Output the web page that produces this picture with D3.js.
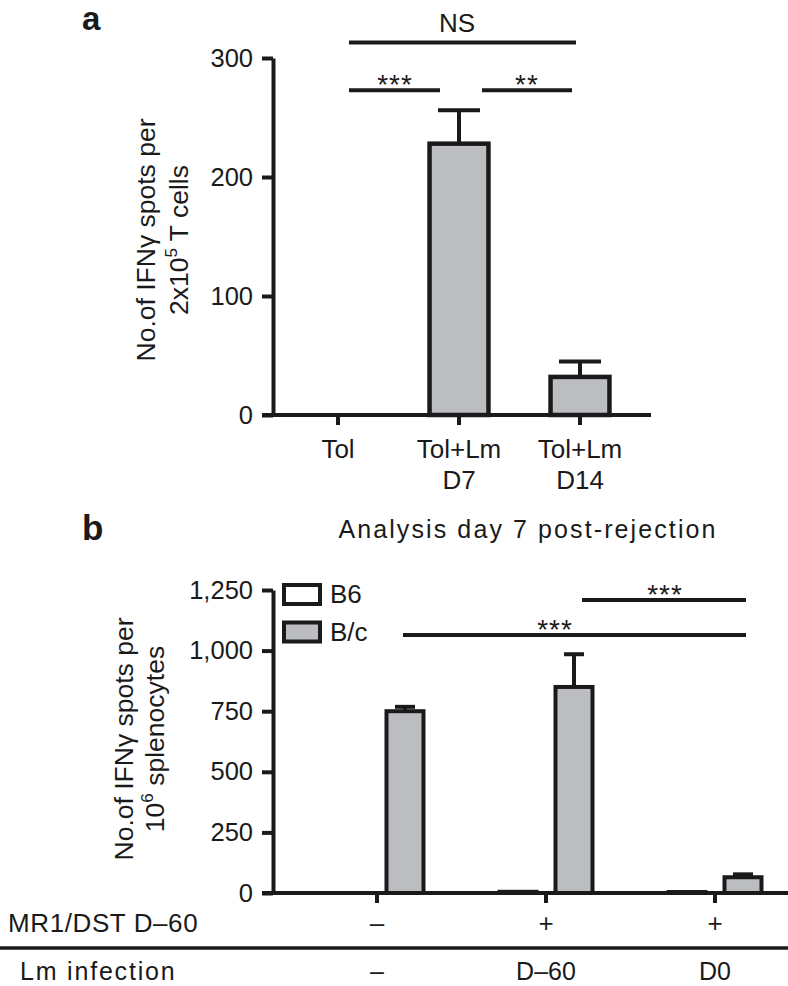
<!DOCTYPE html>
<html>
<head>
<meta charset="utf-8">
<script src="https://cdn.jsdelivr.net/npm/d3@7"></script>
<style>
  html, body { margin: 0; padding: 0; background: #fff; }
  svg { display: block; }
  text { font-family: "Liberation Sans", Arial, Helvetica, sans-serif; fill: #1a1a1a; }
</style>
</head>
<body>
<svg id="chart" width="788" height="986"></svg>
<script>
// ---------- Panel a data ----------
const catsA = ["Tol", "Tol+Lm D7", "Tol+Lm D14"];
const catLabelsA = [["Tol"], ["Tol+Lm", "D7"], ["Tol+Lm", "D14"]];
const valuesA = [0, 228, 32];
const errorsA = [0, 28, 13];
const ticksA = [0, 100, 200, 300];
const sigA = [
  { from: 0, to: 2, label: "NS", level: 313 },
  { from: 0, to: 1, label: "***", level: 273 },
  { from: 1, to: 2, label: "**", level: 273 }
];

// ---------- Panel b data ----------
const groupsB = ["ctrl", "D-60", "D0"];
const seriesB = ["B6", "B/c"];
const b6Values = [0, 5, 4];
const bcValues = [750, 850, 65];
const bcErrors = [18, 135, 12];
const ticksB = [0, 250, 500, 750, 1000, 1250];
const mr1Row = ["–", "+", "+"];
const lmRow = ["–", "D–60", "D0"];
const sigB = [
  { from: 1, to: 2, label: "***", level: 1209 },
  { from: 0, to: 2, label: "***", level: 1064 }
];

const INK = "#1a1a1a";
const GREY = "#bcbdc0";
const svg = d3.select("#chart");

// ================= Panel a =================
const yA = d3.scaleLinear().domain([0, 300]).range([415, 58]);
const xA = d3.scaleBand().domain(catsA).range([277.5, 640.5]).paddingInner(0.48).paddingOuter(0.24);
const cA = i => xA(catsA[i]) + xA.bandwidth() / 2;

svg.append("text").attr("x", 82).attr("y", 30).attr("font-size", 33).attr("font-weight", "bold").text("a");

// y axis
const gyA = svg.append("g").attr("transform", "translate(273,0)")
  .call(d3.axisLeft(yA).tickValues(ticksA).tickSize(11).tickSizeOuter(0).tickPadding(9));
gyA.selectAll("path,line").attr("stroke", INK).attr("stroke-width", 4);
gyA.selectAll("text").attr("font-size", 25.5).attr("fill", INK).attr("font-family", "Liberation Sans, Arial, sans-serif");

// bars
svg.append("g").selectAll("rect").data(valuesA).join("rect")
  .attr("x", (d, i) => xA(catsA[i]) + 2)
  .attr("width", xA.bandwidth() - 4)
  .attr("y", d => yA(d))
  .attr("height", d => yA(0) - yA(d))
  .attr("fill", GREY).attr("stroke", INK).attr("stroke-width", 4.5)
  .style("display", d => d > 0 ? null : "none");

// error bars
const errA = svg.append("g").attr("stroke", INK).attr("stroke-width", 4);
valuesA.forEach((v, i) => {
  if (errorsA[i] <= 0) return;
  errA.append("line").attr("x1", cA(i)).attr("x2", cA(i)).attr("y1", yA(v)).attr("y2", yA(v + errorsA[i]));
  errA.append("line").attr("x1", cA(i) - 21).attr("x2", cA(i) + 21).attr("y1", yA(v + errorsA[i])).attr("y2", yA(v + errorsA[i]));
});

// x axis
const gxA = svg.append("g").attr("transform", "translate(0,415)")
  .call(d3.axisBottom(xA).tickSize(10).tickSizeOuter(0).tickFormat(""));
gxA.select(".domain").remove();
gxA.selectAll("line").attr("stroke", INK).attr("stroke-width", 4);
svg.append("line").attr("x1", 262).attr("x2", 651).attr("y1", yA(0)).attr("y2", yA(0))
  .attr("stroke", INK).attr("stroke-width", 4);
catLabelsA.forEach((lines, i) => {
  const t = svg.append("text").attr("text-anchor", "middle").attr("font-size", 26);
  lines.forEach((s, j) => t.append("tspan").attr("x", cA(i)).attr("y", 458 + j * 31).text(s));
});

// y title
svg.append("text").attr("transform", "translate(0,240) rotate(-90)")
  .attr("text-anchor", "middle").attr("font-size", 26.5).attr("x", 0).attr("y", 155).text("No.of IFNγ spots per");
const l2a = svg.append("text").attr("transform", "translate(0,240) rotate(-90)")
  .attr("text-anchor", "middle").attr("font-size", 26.5).attr("y", 188).attr("x", 0);
l2a.append("tspan").text("2x10");
l2a.append("tspan").attr("font-size", 17).attr("dy", -11).text("5");
l2a.append("tspan").attr("dy", 11).text("  T cells");

// significance a
const sigOffA = [[11, -4], [11, -19], [23, -8]];
const labelXA = [457, 395, 527];
sigA.forEach((s, k) => {
  const x1 = cA(s.from) + sigOffA[k][0], x2 = cA(s.to) + sigOffA[k][1];
  svg.append("line").attr("x1", x1).attr("x2", x2).attr("y1", yA(s.level)).attr("y2", yA(s.level))
    .attr("stroke", INK).attr("stroke-width", 4);
  const star = s.label.startsWith("*");
  svg.append("text").attr("x", labelXA[k])
    .attr("y", star ? yA(s.level) + 4 : yA(s.level) - 11)
    .attr("text-anchor", "middle").attr("font-size", star ? 28 : 26)
    .attr("letter-spacing", star ? 1 : 0)
    .text(s.label);
});

// ================= Panel b =================
const yB = d3.scaleLinear().domain([0, 1250]).range([893, 590]);
const x0B = d3.scaleBand().domain(groupsB).range([292.5, 799.5]);
const x1B = d3.scaleBand().domain(seriesB).range([36.5, 132.5]).paddingInner(0.2857).paddingOuter(0);
const gC = i => x0B(groupsB[i]) + x0B.bandwidth() / 2;
const sX = (i, s) => x0B(groupsB[i]) + x1B(s);

svg.append("text").attr("x", 82).attr("y", 540).attr("font-size", 35).attr("font-weight", "bold").text("b");
svg.append("text").attr("x", 528).attr("y", 538).attr("text-anchor", "middle").attr("font-size", 25)
  .attr("letter-spacing", 2.1).text("Analysis day 7 post-rejection");

const gyB = svg.append("g").attr("transform", "translate(273,0)")
  .call(d3.axisLeft(yB).tickValues(ticksB).tickSize(11).tickSizeOuter(0).tickPadding(9).tickFormat(d3.format(",")));
gyB.selectAll("path,line").attr("stroke", INK).attr("stroke-width", 4);
gyB.selectAll("text").attr("font-size", 25.5).attr("fill", INK).attr("font-family", "Liberation Sans, Arial, sans-serif");

// bars
const barsB = [];
groupsB.forEach((g, i) => {
  barsB.push({ i, s: "B6", v: b6Values[i], e: 0 });
  barsB.push({ i, s: "B/c", v: bcValues[i], e: bcErrors[i] });
});
svg.append("g").selectAll("rect").data(barsB).join("rect")
  .attr("x", d => sX(d.i, d.s) + 1.5)
  .attr("width", x1B.bandwidth() - 3)
  .attr("y", d => yB(d.v))
  .attr("height", d => yB(0) - yB(d.v))
  .attr("fill", d => d.s === "B6" ? "#ffffff" : GREY)
  .attr("stroke", INK).attr("stroke-width", 4)
  .style("display", d => d.v > 0 ? null : "none");

const errB = svg.append("g").attr("stroke", INK).attr("stroke-width", 4);
barsB.filter(d => d.e > 0).forEach(d => {
  const cx = sX(d.i, d.s) + x1B.bandwidth() / 2;
  errB.append("line").attr("x1", cx).attr("x2", cx).attr("y1", yB(d.v)).attr("y2", yB(d.v + d.e));
  errB.append("line").attr("x1", cx - 10).attr("x2", cx + 10).attr("y1", yB(d.v + d.e)).attr("y2", yB(d.v + d.e));
});

// x axis b
const gxB = svg.append("g").attr("transform", "translate(0,893)")
  .call(d3.axisBottom(x0B).tickSize(10).tickSizeOuter(0).tickFormat(""));
gxB.select(".domain").remove();
gxB.selectAll("line").attr("stroke", INK).attr("stroke-width", 4);
svg.append("line").attr("x1", 262).attr("x2", 788).attr("y1", yB(0)).attr("y2", yB(0))
  .attr("stroke", INK).attr("stroke-width", 4);

// legend
const legB = svg.append("g");
seriesB.forEach((s, k) => {
  const y = 583 + k * 37.5;
  legB.append("rect").attr("x", 284).attr("y", y + 2).attr("width", 36).attr("height", 19)
    .attr("fill", s === "B6" ? "#fff" : GREY).attr("stroke", INK).attr("stroke-width", 4);
  legB.append("text").attr("x", 330).attr("y", y + 20).attr("font-size", 26).text(s);
});

// y title b
svg.append("text").attr("transform", "translate(0,739) rotate(-90)")
  .attr("text-anchor", "middle").attr("font-size", 26.5).attr("x", 0).attr("y", 133).text("No.of IFNγ spots per");
const l2b = svg.append("text").attr("transform", "translate(0,739) rotate(-90)")
  .attr("text-anchor", "middle").attr("font-size", 26.5).attr("x", 0).attr("y", 164);
l2b.append("tspan").text("10");
l2b.append("tspan").attr("font-size", 17).attr("dy", -11).text("6");
l2b.append("tspan").attr("dy", 11).text(" splenocytes");

// significance b
const bcC = i => sX(i, "B/c") + x1B.bandwidth() / 2;
const sigOffB = [[8, 3], [-2, 3]];
const starXB = [665, 555];
sigB.forEach((s, k) => {
  const x1 = bcC(s.from) + sigOffB[k][0], x2 = bcC(s.to) + sigOffB[k][1];
  svg.append("line").attr("x1", x1).attr("x2", x2).attr("y1", yB(s.level)).attr("y2", yB(s.level))
    .attr("stroke", INK).attr("stroke-width", 4);
  svg.append("text").attr("x", starXB[k]).attr("y", yB(s.level) + 4)
    .attr("text-anchor", "middle").attr("font-size", 28).attr("letter-spacing", 1).text(s.label);
});

// condition rows
svg.append("text").attr("x", 8).attr("y", 932).attr("font-size", 26).attr("letter-spacing", 0.6).text("MR1/DST D–60");
mr1Row.forEach((s, i) => svg.append("text").attr("x", gC(i)).attr("y", 932)
  .attr("text-anchor", "middle").attr("font-size", 26).text(s));
svg.append("line").attr("x1", 0).attr("x2", 788).attr("y1", 948).attr("y2", 948)
  .attr("stroke", INK).attr("stroke-width", 3.5);
svg.append("text").attr("x", 20).attr("y", 980).attr("font-size", 25).attr("letter-spacing", 1.8).text("Lm infection");
lmRow.forEach((s, i) => svg.append("text").attr("x", gC(i)).attr("y", 980)
  .attr("text-anchor", "middle").attr("font-size", 25).text(s));
</script>
</body>
</html>
